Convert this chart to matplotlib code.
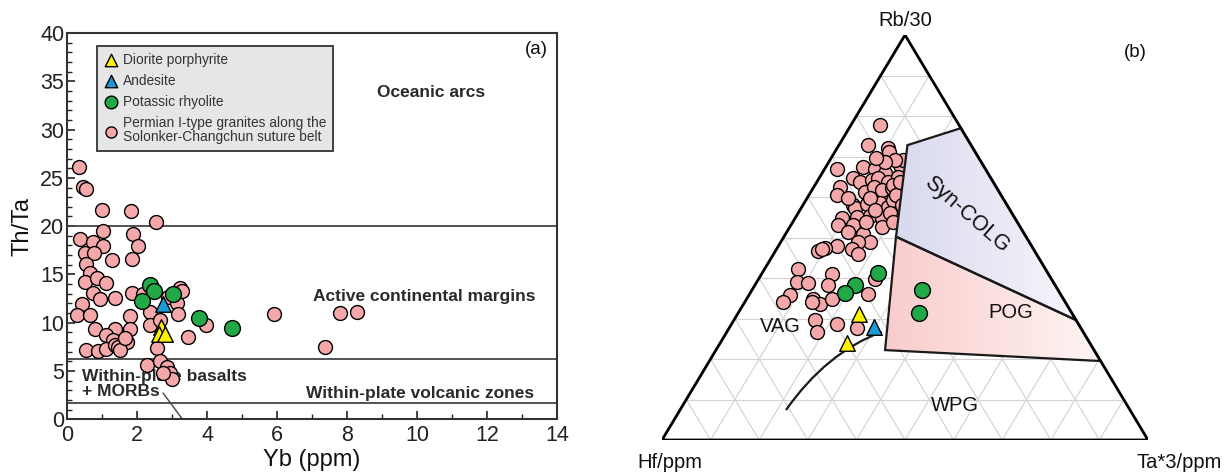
import numpy as np
import matplotlib
matplotlib.use('Agg')
import matplotlib.pyplot as plt
from matplotlib.patches import Polygon, PathPatch
from matplotlib.path import Path
from matplotlib.colors import LinearSegmentedColormap

plt.rcParams['font.family'] = ['Liberation Sans', 'DejaVu Sans']

# ---------------- (a) Th/Ta vs Yb data ----------------
granite_yb = [0.35, 0.47, 0.54, 1.01, 1.83, 2.53, 1.04, 1.89, 0.37, 2.04, 0.73, 1.02,
              0.51, 0.77, 1.28, 1.85, 0.54, 0.66, 0.51, 0.85, 1.11, 0.75, 0.94, 1.37,
              1.85, 0.42, 0.28, 0.66, 1.80, 0.80, 1.37, 1.80, 1.11, 1.32, 1.70, 0.54,
              0.89, 1.11, 1.37, 1.46, 1.51, 1.65, 2.18, 2.37, 2.37, 2.66, 2.56, 2.89,
              3.13, 3.18, 3.23, 3.28, 3.47, 3.96, 5.91, 2.28, 2.66, 2.85, 2.94, 2.99,
              2.75, 7.80, 8.29, 7.38]
granite_thta = [26.15, 24.1, 23.8, 21.7, 21.6, 20.4, 19.5, 19.15, 18.7, 17.9, 18.4, 17.9,
                17.25, 17.2, 16.5, 16.55, 16.05, 15.2, 14.25, 14.6, 14.1, 13.1, 12.5, 12.6,
                13.1, 11.9, 10.8, 10.8, 10.7, 9.3, 9.4, 9.4, 8.7, 8.2, 8.0, 7.2,
                7.1, 7.25, 7.7, 7.5, 7.2, 8.4, 13.0, 11.1, 9.75, 10.3, 7.4, 12.7,
                12.0, 10.9, 13.55, 13.3, 8.5, 9.75, 10.9, 5.6, 6.0, 5.4, 4.75, 4.15,
                4.8, 11.0, 11.1, 7.5]
rhyolite_yb = [2.37, 2.49, 2.13, 3.04, 3.78, 4.70]
rhyolite_thta = [13.9, 13.3, 12.25, 13.0, 10.45, 9.5]
andesite_yb = [2.75]
andesite_thta = [11.9]
diorite_yb = [2.68, 2.64, 2.80]
diorite_thta = [9.6, 8.8, 8.8]

boundary_levels = [20.0, 6.2, 1.7]
diag_yb = [2.75, 3.3]
diag_thta = [2.7, 0.0]

# ---------------- (b) Hf - Rb/30 - Ta*3 data (%) ----------------
granite_rb = [77.8, 72.8, 72.0, 71.2, 66.8, 67.3, 66.8, 65.9, 67.9, 69.1, 64.6, 63.8, 64.2,
              64.6, 63.8, 65.0, 62.4, 60.5, 61.3, 62.4, 61.7, 62.1, 58.0, 57.2, 58.3, 58.6,
              57.6, 59.3, 54.7, 55.1, 55.3, 54.7, 56.0, 53.0, 53.0, 52.6, 51.4, 50.9, 48.9,
              48.9, 47.2, 46.0, 47.9, 47.4, 46.6, 47.2, 42.3, 39.0, 38.8, 41.1, 38.2, 35.9,
              34.1, 34.7, 33.65, 34.1, 34.9, 36.1, 39.8, 29.6, 26.7, 28.7, 27.65,
              63.0, 60.5, 59.75, 59.75, 56.8, 69.1, 68.6, 69.6, 53.8, 53.8, 63.7, 58.0]
granite_ta = [6.0, 6.05, 10.44, 11.1, 2.55, 7.77, 10.43, 12.93, 15.02, 15.1, 7.06, 8.84, 11.05,
              12.2, 14.54, 16.12, 5.43, 5.7, 11.12, 12.48, 14.35, 16.21, 10.36, 11.11, 12.97, 15.56,
              17.76, 17.94, 9.63, 12.51, 15.15, 17.85, 18.91, 9.78, 12.86, 18.9, 12.63, 15.97, 18.35,
              15.94, 15.43, 17.39, 12.0, 9.84, 8.86, 9.26, 6.77, 8.22, 10.7, 14.37, 15.12, 8.39,
              7.91, 13.78, 15.69, 13.75, 17.47, 24.4, 23.93, 16.68, 18.48, 21.6, 26.24,
              16.03, 17.9, 12.93, 8.4, 15.43, 13.4, 11.58, 9.23, 15.08, 20.63, 17.1, 20.38]
granite_hf = [100 - r - t for r, t in zip(granite_rb, granite_ta)]

rhyolite_rb = [41.3, 38.2, 36.4, 37.0, 31.3]
rhyolite_ta = [23.73, 20.61, 19.45, 34.94, 37.29]
rhyolite_hf = [34.97, 41.2, 44.15, 28.06, 31.4]
andesite_rb_t = [28.0]
andesite_ta_t = [29.68]
andesite_hf_t = [42.32]
diorite_rb_t = [31.1, 23.9]
diorite_ta_t = [25.05, 26.05]
diorite_hf_t = [43.85, 50.05]

# field boundaries (Hf, Rb, Ta in %)
syncolg_hf = [0.0, 13.1, 26.75, 0.0]
syncolg_rb = [77.0, 72.8, 50.2, 29.6]
syncolg_ta = [23.0, 14.1, 23.05, 70.4]
pog_hf = [26.75, 0.0, 0.0, 43.0]
pog_rb = [50.2, 29.6, 19.5, 22.2]
pog_ta = [23.05, 70.4, 80.5, 34.8]
# VAG / WPG boundary: start, bezier control, end
curve_hf = [41.45, 55.42, 70.8]
curve_rb = [26.7, 21.58, 7.4]
curve_ta = [31.85, 23.0, 21.81]

PINK = '#f5a8aa'
GREEN = '#23a847'
YELLOW = '#fff200'
BLUE = '#1c9ad6'
TXT = '#2a2a2a'

W, H = 1226, 475
fig = plt.figure(figsize=(W / 100, H / 100), dpi=100)

# ================= panel (a) =================
ax = fig.add_axes([67 / W, 1 - 419.3 / H, 490 / W, (419.3 - 33) / H])
ax.set_xlim(0, 14)
ax.set_ylim(0, 40)
for y in boundary_levels:
    ax.axhline(y, color='#444444', lw=1.3, zorder=2)
ax.plot(diag_yb, diag_thta, color='#444444', lw=1.0, zorder=2)

ax.scatter(granite_yb, granite_thta, s=100, c=PINK, edgecolors='black', linewidths=1.0,
           zorder=4, label='Permian I-type granites along the\nSolonker-Changchun suture belt')
ax.scatter(rhyolite_yb, rhyolite_thta, s=130, c=GREEN, edgecolors='black', linewidths=1.0,
           zorder=5, label='Potassic rhyolite')
ax.scatter(andesite_yb, andesite_thta, s=125, c=BLUE, marker='^', edgecolors='black',
           linewidths=1.0, zorder=6, label='Andesite')
ax.scatter(diorite_yb, diorite_thta, s=125, c=YELLOW, marker='^', edgecolors='black',
           linewidths=1.0, zorder=6, label='Diorite porphyrite')

ax.text(10.4, 33.8, 'Oceanic arcs', fontsize=12.5, fontweight='bold', color=TXT,
        ha='center', va='center', zorder=3)
ax.text(10.2, 12.7, 'Active continental margins', fontsize=12.5, fontweight='bold', color=TXT,
        ha='center', va='center', zorder=3)
ax.text(10.1, 2.7, 'Within-plate volcanic zones', fontsize=12.5, fontweight='bold', color=TXT,
        ha='center', va='center', zorder=3)
ax.text(0.43, 3.65, 'Within-plate basalts\n+ MORBs', fontsize=12.5, fontweight='bold', color=TXT,
        ha='left', va='center', linespacing=1.0, zorder=3)
ax.text(13.4, 38.3, '(a)', fontsize=13.5, ha='center', va='center', color='#111111')

ax.set_xticks(np.arange(0, 15, 2))
ax.set_xticks(np.arange(0, 15, 1), minor=True)
ax.set_yticks(np.arange(0, 41, 5))
ax.set_yticks(np.arange(0, 41, 1), minor=True)
ax.tick_params(which='both', direction='in', top=False, right=False, labelsize=15.5,
               colors='#222222')
ax.tick_params(axis='x', which='major', pad=4)
ax.tick_params(axis='y', which='major', pad=2)
ax.tick_params(which='major', length=6, width=1.2)
ax.tick_params(which='minor', length=3.5, width=1.0)
for sp in ax.spines.values():
    sp.set_linewidth(1.5)
    sp.set_color('#333333')
ax.set_xlabel('Yb (ppm)', fontsize=17, labelpad=2, color='#111111')
ax.set_ylabel('Th/Ta', fontsize=17, labelpad=5, color='#111111')

handles, labels = ax.get_legend_handles_labels()
order = [3, 2, 1, 0]
leg = ax.legend([handles[i] for i in order], [labels[i] for i in order],
                loc='upper left', bbox_to_anchor=(0.061, 0.967), borderaxespad=0,
                fontsize=9.9, frameon=True, fancybox=False, framealpha=1,
                handlelength=1.0, handletextpad=0.4, borderpad=0.5, labelspacing=0.52,
                markerscale=0.8)
leg.get_frame().set_facecolor('#e6e6e6')
leg.get_frame().set_edgecolor('#333333')
leg.get_frame().set_linewidth(1.3)
for t in leg.get_texts():
    t.set_color('#333333')
    t.set_linespacing(1.0)

# ================= panel (b) =================
axb = fig.add_axes([662 / W, 1 - 440 / H, 486 / W, 405 / H])


def tern(hf, rb, ta):
    hf = np.asarray(hf, float)
    rb = np.asarray(rb, float)
    ta = np.asarray(ta, float)
    s = hf + rb + ta
    rb = rb / s
    ta = ta / s
    return ta + rb / 2, rb


# grid
for i in range(1, 10):
    f = i / 10
    for a, b in [((1 - f, f, 0), (0, f, 1 - f)),
                 ((1 - f, 0, f), (0, 1 - f, f)),
                 ((f, 1 - f, 0), (f, 0, 1 - f))]:
        x, y = tern([a[0], b[0]], [a[1], b[1]], [a[2], b[2]])
        axb.plot(x, y, color='#d2d2d2', lw=0.8, zorder=1)


def grad_field(hf, rb, ta, c1, c2, z):
    x, y = tern(hf, rb, ta)
    verts = np.column_stack([x, y])
    edge = Polygon(verts, closed=True, facecolor='none', edgecolor='#1a1a1a', lw=1.6,
                   zorder=z + 0.5, joinstyle='miter')
    clip = Polygon(verts, closed=True, facecolor='none', edgecolor='none',
                   transform=axb.transData)
    axb.add_patch(clip)
    cmap = LinearSegmentedColormap.from_list('g', [c1, c2])
    grad = np.linspace(0, 1, 256).reshape(1, -1)
    im = axb.imshow(grad, extent=[x.min(), x.max(), y.min(), y.max()], cmap=cmap,
                    aspect='auto', origin='lower', zorder=z, interpolation='bilinear')
    im.set_clip_path(clip)
    axb.add_patch(edge)


# pink points beneath the fields
gx, gy = tern(granite_hf, granite_rb, granite_ta)
axb.scatter(gx, gy, s=100, c=PINK, edgecolors='black', linewidths=1.0, zorder=2)

grad_field(syncolg_hf, syncolg_rb, syncolg_ta, '#d9d9ef', '#f6f6fb', 3)
grad_field(pog_hf, pog_rb, pog_ta, '#f9cccc', '#fdf5f3', 3)

cx, cy = tern(curve_hf, curve_rb, curve_ta)
curve_path = Path(np.column_stack([cx, cy]), [Path.MOVETO, Path.CURVE3, Path.CURVE3])
axb.add_patch(PathPatch(curve_path, facecolor='none', edgecolor='#1a1a1a', lw=1.6, zorder=4))

tri = Polygon([[0, 0], [1, 0], [0.5, 1]], closed=True, facecolor='none', edgecolor='black',
              lw=2.0, zorder=6, joinstyle='miter')
axb.add_patch(tri)

rx, ry = tern(rhyolite_hf, rhyolite_rb, rhyolite_ta)
axb.scatter(rx, ry, s=130, c=GREEN, edgecolors='black', linewidths=1.0, zorder=7)
ax_, ay_ = tern(andesite_hf_t, andesite_rb_t, andesite_ta_t)
axb.scatter(ax_, ay_, s=125, c=BLUE, marker='^', edgecolors='black', linewidths=1.0, zorder=8)
dx_, dy_ = tern(diorite_hf_t, diorite_rb_t, diorite_ta_t)
axb.scatter(dx_, dy_, s=125, c=YELLOW, marker='^', edgecolors='black', linewidths=1.0, zorder=8)

axb.text(0.5, 1.037, 'Rb/30', fontsize=14.5, ha='center', va='center', color='#111111')
axb.text(-0.05, -0.055, 'Hf/ppm', fontsize=14.5, ha='left', va='center', color='#111111')
axb.text(1.153, -0.055, 'Ta*3/ppm', fontsize=14.5, ha='right', va='center', color='#111111')
axb.text(0.973, 0.958, '(b)', fontsize=13.5, ha='center', va='center', color='#111111')
axb.text(0.243, 0.281, 'VAG', fontsize=14.5, ha='center', va='center', color='#111111', zorder=9)
axb.text(0.603, 0.086, 'WPG', fontsize=14.5, ha='center', va='center', color='#111111', zorder=9)
axb.text(0.718, 0.316, 'POG', fontsize=14.5, ha='center', va='center', color='#111111', zorder=9)
axb.text(0.626, 0.556, 'Syn-COLG', fontsize=15.5, ha='center', va='center', rotation=-41,
         rotation_mode='anchor', color='#111111', zorder=9)

axb.set_xlim(0, 1)
axb.set_ylim(0, 1)
axb.axis('off')

fig.savefig('out.png', dpi=100)
